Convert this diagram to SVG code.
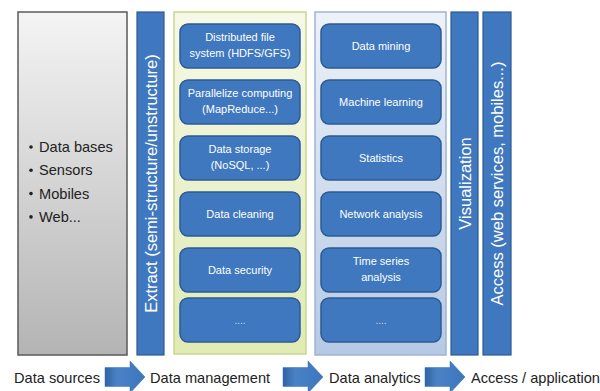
<svg xmlns="http://www.w3.org/2000/svg" width="600" height="391" viewBox="0 0 600 391">
<defs>
<linearGradient id="gSrc" x1="0" y1="0" x2="0" y2="1">
<stop offset="0" stop-color="#f4f4f4"/>
<stop offset="1" stop-color="#b4b4b4"/>
</linearGradient>
<linearGradient id="gMgmt" x1="0" y1="0" x2="0" y2="1">
<stop offset="0" stop-color="#f6f9e6"/>
<stop offset="1" stop-color="#dfeab4"/>
</linearGradient>
<linearGradient id="gAna" x1="0" y1="0" x2="0" y2="1">
<stop offset="0" stop-color="#eef2f8"/>
<stop offset="1" stop-color="#b6c9e4"/>
</linearGradient>
<linearGradient id="gArrow" x1="0" y1="0" x2="1" y2="0">
<stop offset="0" stop-color="#2f62a6"/>
<stop offset="0.3" stop-color="#4a82c6"/>
<stop offset="1" stop-color="#3c76bc"/>
</linearGradient>
<style>
.node{fill:#3f78be;stroke:#2b5b95;stroke-width:1.5}
.bar{fill:#3f78be;stroke:#2b5b95;stroke-width:1.2}
.nt{font-family:"Liberation Sans",Arial,sans-serif;font-size:11px;fill:#ffffff;text-anchor:middle}
.vt{font-family:"Liberation Sans",Arial,sans-serif;font-size:16.5px;fill:#ffffff;text-anchor:middle}
.bl{font-family:"Liberation Sans",Arial,sans-serif;font-size:14.6px;fill:#222222}
.dots{font-family:"Liberation Sans",Arial,sans-serif;font-size:10px;fill:#c9d7ee;text-anchor:middle}
.arrow{fill:url(#gArrow);stroke:#3a6fb3;stroke-width:0.5}
</style>
</defs>
<rect width="600" height="391" fill="#ffffff"/>

<g id="data-sources">
<rect x="18" y="12" width="109" height="343" fill="url(#gSrc)" stroke="#5a5a5a" stroke-width="1.5"/>
<g class="bl">
<circle cx="31" cy="147" r="1.8" fill="#222"/>
<text x="39" y="152">Data bases</text>
<circle cx="31" cy="170.3" r="1.8" fill="#222"/>
<text x="39" y="175.3">Sensors</text>
<circle cx="31" cy="193.6" r="1.8" fill="#222"/>
<text x="39" y="198.6">Mobiles</text>
<circle cx="31" cy="216.9" r="1.8" fill="#222"/>
<text x="39" y="221.9">Web...</text>
</g>
</g>

<g id="extract">
<rect class="bar" x="137" y="12" width="27" height="343"/>
<text class="vt" transform="translate(156.5,183.5) rotate(-90)">Extract (semi-structure/unstructure)</text>
</g>

<g id="data-management-panel">
<rect x="174" y="12" width="132" height="342" fill="url(#gMgmt)" stroke="#c7d78c" stroke-width="1.5"/>
</g>
<g id="mgmt-dfs">
<rect class="node" x="180" y="24" width="120" height="44" rx="8"/>
<text class="nt" x="240" y="41">Distributed file</text>
<text class="nt" x="240" y="57">system (HDFS/GFS)</text>
</g>
<g id="mgmt-parallel">
<rect class="node" x="180" y="80" width="120" height="44" rx="8"/>
<text class="nt" x="240" y="97">Parallelize computing</text>
<text class="nt" x="240" y="113">(MapReduce...)</text>
</g>
<g id="mgmt-storage">
<rect class="node" x="180" y="136" width="120" height="44" rx="8"/>
<text class="nt" x="240" y="153">Data storage</text>
<text class="nt" x="240" y="169">(NoSQL, ...)</text>
</g>
<g id="mgmt-cleaning">
<rect class="node" x="180" y="192" width="120" height="44" rx="8"/>
<text class="nt" x="240" y="218">Data cleaning</text>
</g>
<g id="mgmt-security">
<rect class="node" x="180" y="248" width="120" height="44" rx="8"/>
<text class="nt" x="240" y="274">Data security</text>
</g>
<g id="mgmt-more">
<rect class="node" x="180" y="298" width="120" height="44" rx="8"/>
<text class="dots" x="240" y="324">....</text>
</g>

<g id="data-analytics-panel">
<rect x="315" y="12" width="131" height="343" fill="url(#gAna)" stroke="#9fb4d5" stroke-width="1.5"/>
</g>
<g id="ana-mining">
<rect class="node" x="321" y="24" width="120" height="44" rx="8"/>
<text class="nt" x="381" y="50">Data mining</text>
</g>
<g id="ana-ml">
<rect class="node" x="321" y="80" width="120" height="44" rx="8"/>
<text class="nt" x="381" y="106">Machine learning</text>
</g>
<g id="ana-stats">
<rect class="node" x="321" y="136" width="120" height="44" rx="8"/>
<text class="nt" x="381" y="162">Statistics</text>
</g>
<g id="ana-network">
<rect class="node" x="321" y="192" width="120" height="44" rx="8"/>
<text class="nt" x="381" y="218">Network analysis</text>
</g>
<g id="ana-timeseries">
<rect class="node" x="321" y="248" width="120" height="44" rx="8"/>
<text class="nt" x="381" y="265">Time series</text>
<text class="nt" x="381" y="281">analysis</text>
</g>
<g id="ana-more">
<rect class="node" x="321" y="298" width="120" height="44" rx="8"/>
<text class="dots" x="381" y="324">....</text>
</g>

<g id="visualization">
<rect class="bar" x="451" y="12" width="27" height="343"/>
<text class="vt" transform="translate(470.5,183.5) rotate(-90)">Visualization</text>
</g>
<g id="access">
<rect class="bar" x="483" y="12" width="28" height="343"/>
<text class="vt" transform="translate(503,183.5) rotate(-90)">Access (web services, mobiles...)</text>
</g>

<g id="stage-labels" class="bl">
<text x="14" y="383">Data sources</text>
<text x="150" y="383">Data management</text>
<text x="329" y="383">Data analytics</text>
<text x="471" y="383">Access / application</text>
</g>

<g id="connectors">
<path class="arrow" d="M105,367.5 H130 V361 L145,377 L130,393 V386.5 H105 Z"/>
<path class="arrow" d="M283,367.5 H308 V361 L323,377 L308,393 V386.5 H283 Z"/>
<path class="arrow" d="M425,367.5 H450 V361 L465,377 L450,393 V386.5 H425 Z"/>
</g>
</svg>
